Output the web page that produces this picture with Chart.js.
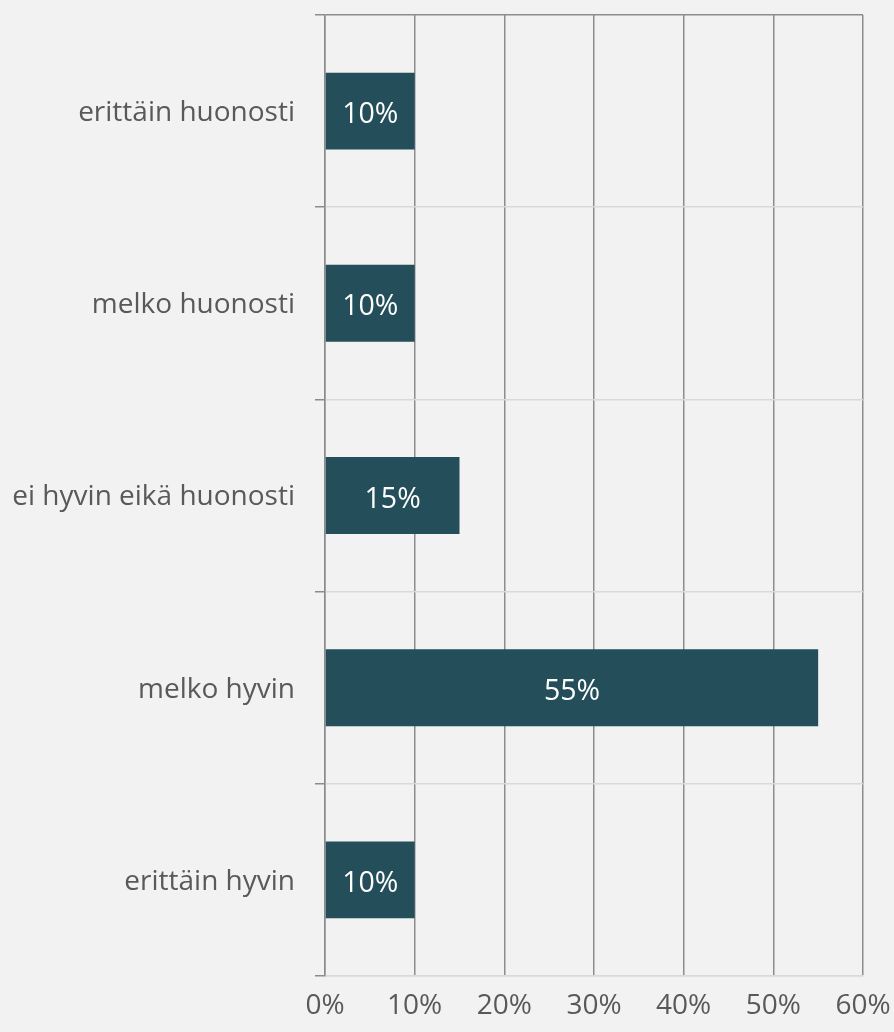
<!DOCTYPE html>
<html>
<head>
<meta charset="utf-8">
<script src="https://cdn.jsdelivr.net/npm/chart.js@4"></script>
<style>
  html, body { margin: 0; padding: 0; background: #f2f2f2; }
  #wrap { width: 894px; height: 1032px; }
</style>
</head>
<body>
<div id="wrap"><canvas id="myChart" width="894" height="1032"></canvas></div>
<script>
let vastaukset = ['erittäin huonosti', 'melko huonosti', 'ei hyvin eikä huonosti', 'melko hyvin', 'erittäin hyvin']
let osuudet = [10, 10, 15, 55, 10]
let xTicks = [0, 10, 20, 30, 40, 50, 60]

let tummaViiva = '#8c8c8c'
let vaaleaViiva = '#d9d9d9'
let fontti = '"Open Sans", sans-serif'

// arvot palkkien sisään
let arvoLabelit = {
    id: 'arvoLabelit',
    afterDatasetsDraw: function (chart) {
        let ctx = chart.ctx
        let meta = chart.getDatasetMeta(0)
        ctx.save()
        ctx.fillStyle = '#ffffff'
        ctx.font = '28.5px ' + fontti
        ctx.textAlign = 'center'
        ctx.textBaseline = 'middle'
        meta.data.forEach(function (bar, i) {
            let x = (bar.x + bar.base) / 2
            ctx.fillText(osuudet[i] + '%', x, bar.y + 4)
        })
        ctx.restore()
    }
}

let miGrafico = new Chart('myChart', {
    type: 'bar',
    data: {
        labels: vastaukset,
        datasets: [{
            data: osuudet,
            backgroundColor: '#234e5a',
            barPercentage: 0.4,
            categoryPercentage: 1
        }]
    },
    options: {
        indexAxis: 'y',
        responsive: false,
        animation: false,
        layout: { padding: { top: 15, right: 31, left: 0, bottom: 0 } },
        plugins: {
            legend: { display: false },
            tooltip: { enabled: false }
        },
        scales: {
            x: {
                min: 0,
                max: 60,
                afterBuildTicks: function (scale) {
                    scale.ticks = xTicks.map(function (v) { return { value: v } })
                },
                afterFit: function (scale) {
                    scale.height = 56
                    scale.paddingLeft = 0
                    scale.paddingRight = 0
                },
                grid: {
                    color: tummaViiva,
                    lineWidth: 1.5,
                    drawTicks: false
                },
                border: { color: vaaleaViiva, width: 1.5 },
                ticks: {
                    padding: 13,
                    color: '#595959',
                    font: { family: fontti, size: 28 },
                    callback: function (v) { return v + '%' }
                }
            },
            y: {
                afterFit: function (scale) {
                    scale.width = 325
                    scale.paddingTop = 0
                    scale.paddingBottom = 0
                },
                grid: {
                    offset: true,
                    color: function (c) { return c.index === 0 ? tummaViiva : vaaleaViiva },
                    tickColor: tummaViiva,
                    lineWidth: 1.5,
                    tickLength: 10
                },
                border: { color: tummaViiva, width: 1.5 },
                ticks: {
                    padding: 20,
                    labelOffset: 2,
                    color: '#595959',
                    font: { family: fontti, size: 28 }
                }
            }
        }
    },
    plugins: [arvoLabelit]
})
</script>
</body>
</html>
